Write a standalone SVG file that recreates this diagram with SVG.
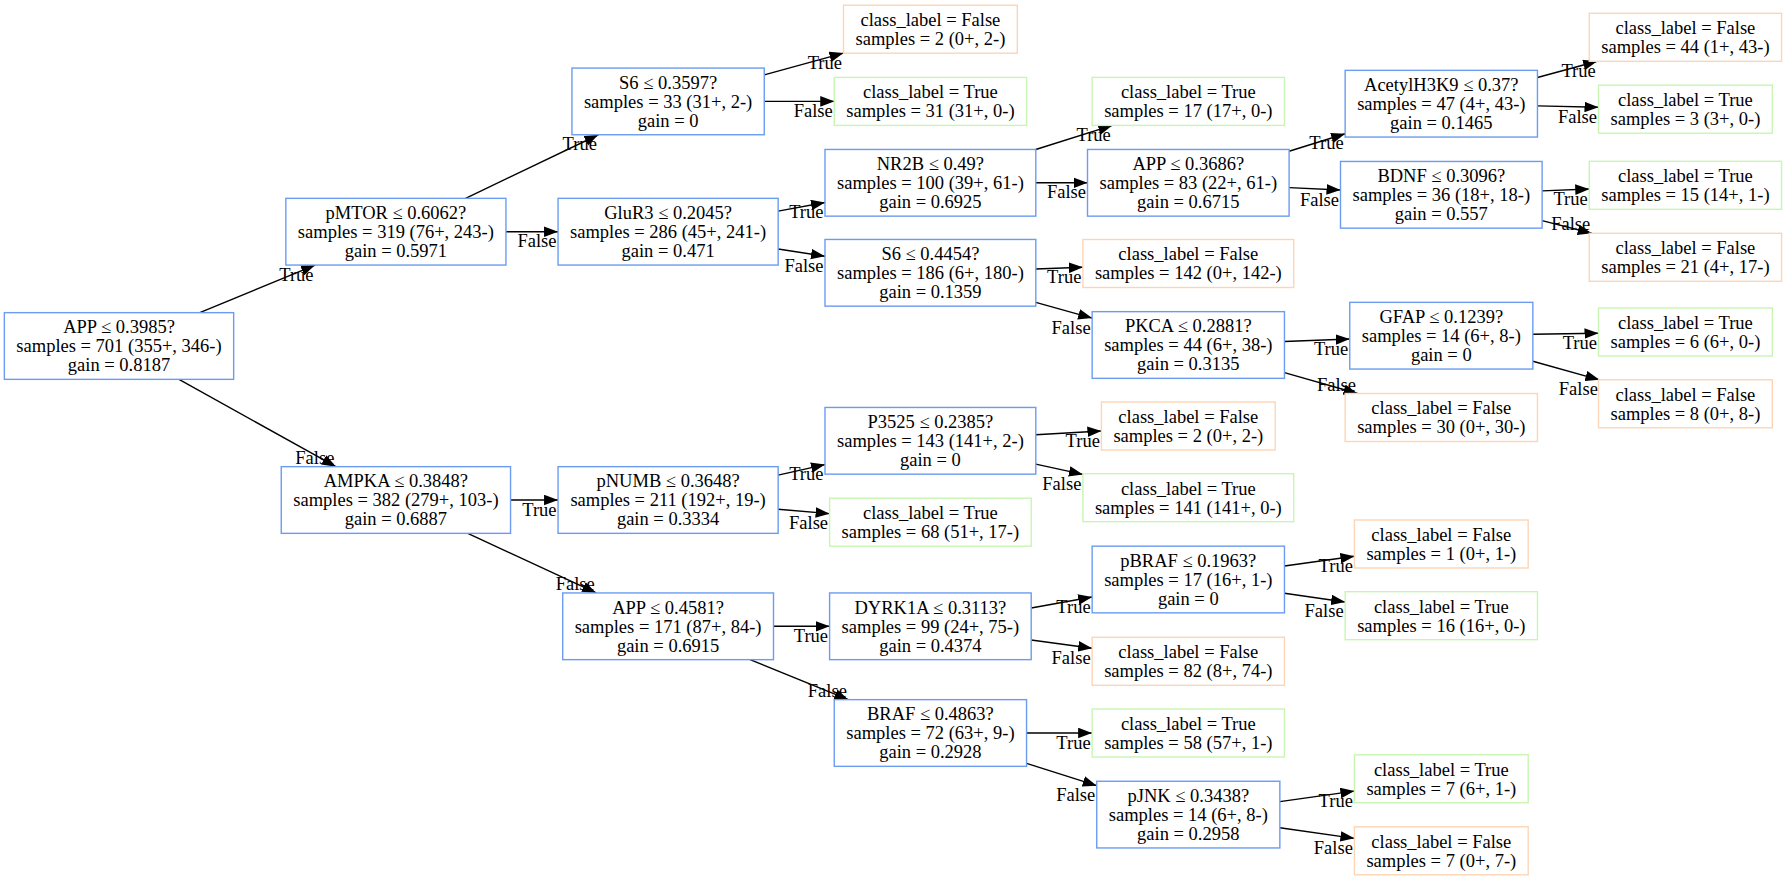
<svg xmlns="http://www.w3.org/2000/svg" width="1786" height="880" viewBox="0 0 1786 880">
<defs>
<style>
text{font-family:"Liberation Serif","Times New Roman",serif;font-size:18.5px;fill:#000}
.node text{text-anchor:middle}
.dec{fill:#fff;stroke:#6b9cf2;stroke-width:1.4}
.lt{fill:#fff;stroke:#c8f6b2;stroke-width:1.4}
.lf{fill:#fff;stroke:#fdd5b6;stroke-width:1.4}
.edges line{stroke:#000;stroke-width:1.4;marker-end:url(#ah)}
.edges text{text-anchor:end}
</style>
<marker id="ah" viewBox="0 0 14 11" refX="14" refY="5.5" markerWidth="14" markerHeight="11" markerUnits="userSpaceOnUse" orient="auto"><path d="M0,0.2 L14,5.5 L0,10.8 Z" fill="#000"/></marker>
</defs>
<rect width="1786" height="880" fill="#fff"/>
<g id="edges" class="edges">
<line x1="199.8" y1="312.65" x2="315.1" y2="265.05"/><text x="313.6" y="280.6">True</text>
<line x1="179.0" y1="379.35" x2="335.9" y2="466.65"/><text x="334.4" y="463.6">False</text>
<line x1="465.6" y1="198.35" x2="598.4" y2="134.75"/><text x="596.9" y="150.3">True</text>
<line x1="506.0" y1="231.7" x2="558.05" y2="231.7"/><text x="556.55" y="247.2">False</text>
<line x1="510.55" y1="500" x2="558.05" y2="500"/><text x="556.55" y="515.5">True</text>
<line x1="467.8" y1="533.35" x2="596.2" y2="592.95"/><text x="594.7" y="589.9">False</text>
<line x1="764.25" y1="74.93" x2="843.5" y2="53.12"/><text x="842" y="68.6">True</text>
<line x1="764.25" y1="101.4" x2="834.25" y2="101.4"/><text x="832.75" y="116.9">False</text>
<line x1="778.15" y1="211.18" x2="825.0" y2="202.45"/><text x="823.5" y="218">True</text>
<line x1="778.15" y1="248.95" x2="825.0" y2="256.29"/><text x="823.5" y="271.8">False</text>
<line x1="778.15" y1="475.16" x2="825.0" y2="464.59"/><text x="823.5" y="480.1">True</text>
<line x1="778.15" y1="509.32" x2="829.6" y2="513.67"/><text x="828.1" y="529.2">False</text>
<line x1="773.5" y1="626.3" x2="829.6" y2="626.3"/><text x="828.1" y="641.8">True</text>
<line x1="750.1" y1="659.65" x2="848.4" y2="699.65"/><text x="846.9" y="696.6">False</text>
<line x1="1035.8" y1="149.53" x2="1112.27" y2="125.4"/><text x="1110.8" y="140.9">True</text>
<line x1="1035.8" y1="182.8" x2="1087.5" y2="182.8"/><text x="1086" y="198.3">False</text>
<line x1="1035.8" y1="269.0" x2="1082.9" y2="267.3"/><text x="1081.4" y="282.8">True</text>
<line x1="1035.8" y1="302.31" x2="1092.15" y2="318.08"/><text x="1090.65" y="333.6">False</text>
<line x1="1035.8" y1="434.75" x2="1101.4" y2="430.99"/><text x="1099.9" y="446.5">True</text>
<line x1="1035.8" y1="464.06" x2="1082.9" y2="474.44"/><text x="1081.4" y="490">False</text>
<line x1="1031.2" y1="608.01" x2="1092.15" y2="596.95"/><text x="1090.65" y="612.5">True</text>
<line x1="1031.2" y1="639.98" x2="1092.15" y2="648.25"/><text x="1090.65" y="663.8">False</text>
<line x1="1026.55" y1="733" x2="1092.15" y2="733"/><text x="1090.65" y="748.5">True</text>
<line x1="1026.55" y1="763.42" x2="1096.75" y2="785.63"/><text x="1095.25" y="801.1">False</text>
<line x1="1289.1" y1="151.28" x2="1345.15" y2="133.76"/><text x="1343.65" y="149.3">True</text>
<line x1="1289.1" y1="187.58" x2="1340.5" y2="190.02"/><text x="1339" y="205.5">False</text>
<line x1="1284.45" y1="341.47" x2="1349.75" y2="339.07"/><text x="1348.25" y="354.6">True</text>
<line x1="1284.45" y1="372.55" x2="1357.55" y2="393.5"/><text x="1356" y="390.5">False</text>
<line x1="1284.45" y1="566.01" x2="1354.4" y2="556.19"/><text x="1352.9" y="571.7">True</text>
<line x1="1284.45" y1="593.26" x2="1345.15" y2="601.94"/><text x="1343.65" y="617.4">False</text>
<line x1="1279.85" y1="801.65" x2="1354.4" y2="791.1"/><text x="1352.9" y="806.6">True</text>
<line x1="1279.85" y1="827.7" x2="1354.4" y2="838.37"/><text x="1352.9" y="853.9">False</text>
<line x1="1537.45" y1="77.55" x2="1597.18" y2="61.3"/><text x="1595.7" y="76.8">True</text>
<line x1="1537.45" y1="105.87" x2="1598.5" y2="107.24"/><text x="1597" y="122.7">False</text>
<line x1="1542.1" y1="190.88" x2="1589.25" y2="189.04"/><text x="1587.75" y="204.5">True</text>
<line x1="1542.1" y1="220.61" x2="1591.67" y2="233.3"/><text x="1590.2" y="230.3">False</text>
<line x1="1532.85" y1="334.31" x2="1598.5" y2="333.32"/><text x="1597" y="348.8">True</text>
<line x1="1532.85" y1="361.24" x2="1599.38" y2="379.8"/><text x="1597.9" y="395">False</text>
</g>
<g id="n0" class="node"><rect class="dec" x="4.35" y="312.65" width="229.3" height="66.7"/><text x="119" y="333.3">APP ≤ 0.3985?</text><text x="119" y="352.3">samples = 701 (355+, 346-)</text><text x="119" y="371.3">gain = 0.8187</text></g>
<g id="n1" class="node"><rect class="dec" x="285.85" y="198.35" width="220.1" height="66.7"/><text x="395.9" y="219">pMTOR ≤ 0.6062?</text><text x="395.9" y="238">samples = 319 (76+, 243-)</text><text x="395.9" y="257">gain = 0.5971</text></g>
<g id="n2" class="node"><rect class="dec" x="281.25" y="466.65" width="229.3" height="66.7"/><text x="395.9" y="487.3">AMPKA ≤ 0.3848?</text><text x="395.9" y="506.3">samples = 382 (279+, 103-)</text><text x="395.9" y="525.3">gain = 0.6887</text></g>
<g id="n3" class="node"><rect class="dec" x="571.95" y="68.05" width="192.3" height="66.7"/><text x="668.1" y="88.7">S6 ≤ 0.3597?</text><text x="668.1" y="107.7">samples = 33 (31+, 2-)</text><text x="668.1" y="126.7">gain = 0</text></g>
<g id="n4" class="node"><rect class="dec" x="558.05" y="198.35" width="220.1" height="66.7"/><text x="668.1" y="219">GluR3 ≤ 0.2045?</text><text x="668.1" y="238">samples = 286 (45+, 241-)</text><text x="668.1" y="257">gain = 0.471</text></g>
<g id="n5" class="node"><rect class="dec" x="558.05" y="466.65" width="220.1" height="66.7"/><text x="668.1" y="487.3">pNUMB ≤ 0.3648?</text><text x="668.1" y="506.3">samples = 211 (192+, 19-)</text><text x="668.1" y="525.3">gain = 0.3334</text></g>
<g id="n6" class="node"><rect class="dec" x="562.7" y="592.95" width="210.8" height="66.7"/><text x="668.1" y="613.6">APP ≤ 0.4581?</text><text x="668.1" y="632.6">samples = 171 (87+, 84-)</text><text x="668.1" y="651.6">gain = 0.6915</text></g>
<g id="n7" class="node"><rect class="lf" x="843.5" y="5.2" width="173.8" height="48"/><text x="930.4" y="26">class_label = False</text><text x="930.4" y="45">samples = 2 (0+, 2-)</text></g>
<g id="n8" class="node"><rect class="lt" x="834.25" y="77.4" width="192.3" height="48"/><text x="930.4" y="98.2">class_label = True</text><text x="930.4" y="117.2">samples = 31 (31+, 0-)</text></g>
<g id="n9" class="node"><rect class="dec" x="825" y="149.45" width="210.8" height="66.7"/><text x="930.4" y="170.1">NR2B ≤ 0.49?</text><text x="930.4" y="189.1">samples = 100 (39+, 61-)</text><text x="930.4" y="208.1">gain = 0.6925</text></g>
<g id="n10" class="node"><rect class="dec" x="825" y="239.45" width="210.8" height="66.7"/><text x="930.4" y="260.1">S6 ≤ 0.4454?</text><text x="930.4" y="279.1">samples = 186 (6+, 180-)</text><text x="930.4" y="298.1">gain = 0.1359</text></g>
<g id="n11" class="node"><rect class="dec" x="825" y="407.45" width="210.8" height="66.7"/><text x="930.4" y="428.1">P3525 ≤ 0.2385?</text><text x="930.4" y="447.1">samples = 143 (141+, 2-)</text><text x="930.4" y="466.1">gain = 0</text></g>
<g id="n12" class="node"><rect class="lt" x="829.6" y="498.2" width="201.6" height="48"/><text x="930.4" y="519">class_label = True</text><text x="930.4" y="538">samples = 68 (51+, 17-)</text></g>
<g id="n13" class="node"><rect class="dec" x="829.6" y="592.95" width="201.6" height="66.7"/><text x="930.4" y="613.6">DYRK1A ≤ 0.3113?</text><text x="930.4" y="632.6">samples = 99 (24+, 75-)</text><text x="930.4" y="651.6">gain = 0.4374</text></g>
<g id="n14" class="node"><rect class="dec" x="834.25" y="699.65" width="192.3" height="66.7"/><text x="930.4" y="720.3">BRAF ≤ 0.4863?</text><text x="930.4" y="739.3">samples = 72 (63+, 9-)</text><text x="930.4" y="758.3">gain = 0.2928</text></g>
<g id="n15" class="node"><rect class="lt" x="1092.15" y="77.4" width="192.3" height="48"/><text x="1188.3" y="98.2">class_label = True</text><text x="1188.3" y="117.2">samples = 17 (17+, 0-)</text></g>
<g id="n16" class="node"><rect class="dec" x="1087.5" y="149.45" width="201.6" height="66.7"/><text x="1188.3" y="170.1">APP ≤ 0.3686?</text><text x="1188.3" y="189.1">samples = 83 (22+, 61-)</text><text x="1188.3" y="208.1">gain = 0.6715</text></g>
<g id="n17" class="node"><rect class="lf" x="1082.9" y="239.5" width="210.8" height="48"/><text x="1188.3" y="260.3">class_label = False</text><text x="1188.3" y="279.3">samples = 142 (0+, 142-)</text></g>
<g id="n18" class="node"><rect class="dec" x="1092.15" y="311.65" width="192.3" height="66.7"/><text x="1188.3" y="332.3">PKCA ≤ 0.2881?</text><text x="1188.3" y="351.3">samples = 44 (6+, 38-)</text><text x="1188.3" y="370.3">gain = 0.3135</text></g>
<g id="n19" class="node"><rect class="lf" x="1101.4" y="402" width="173.8" height="48"/><text x="1188.3" y="422.8">class_label = False</text><text x="1188.3" y="441.8">samples = 2 (0+, 2-)</text></g>
<g id="n20" class="node"><rect class="lt" x="1082.9" y="473.7" width="210.8" height="48"/><text x="1188.3" y="494.5">class_label = True</text><text x="1188.3" y="513.5">samples = 141 (141+, 0-)</text></g>
<g id="n21" class="node"><rect class="dec" x="1092.15" y="546.15" width="192.3" height="66.7"/><text x="1188.3" y="566.8">pBRAF ≤ 0.1963?</text><text x="1188.3" y="585.8">samples = 17 (16+, 1-)</text><text x="1188.3" y="604.8">gain = 0</text></g>
<g id="n22" class="node"><rect class="lf" x="1092.15" y="637.3" width="192.3" height="48"/><text x="1188.3" y="658.1">class_label = False</text><text x="1188.3" y="677.1">samples = 82 (8+, 74-)</text></g>
<g id="n23" class="node"><rect class="lt" x="1092.15" y="709" width="192.3" height="48"/><text x="1188.3" y="729.8">class_label = True</text><text x="1188.3" y="748.8">samples = 58 (57+, 1-)</text></g>
<g id="n24" class="node"><rect class="dec" x="1096.75" y="781.25" width="183.1" height="66.7"/><text x="1188.3" y="801.9">pJNK ≤ 0.3438?</text><text x="1188.3" y="820.9">samples = 14 (6+, 8-)</text><text x="1188.3" y="839.9">gain = 0.2958</text></g>
<g id="n25" class="node"><rect class="dec" x="1345.15" y="70.35" width="192.3" height="66.7"/><text x="1441.3" y="91">AcetylH3K9 ≤ 0.37?</text><text x="1441.3" y="110">samples = 47 (4+, 43-)</text><text x="1441.3" y="129">gain = 0.1465</text></g>
<g id="n26" class="node"><rect class="dec" x="1340.5" y="161.45" width="201.6" height="66.7"/><text x="1441.3" y="182.1">BDNF ≤ 0.3096?</text><text x="1441.3" y="201.1">samples = 36 (18+, 18-)</text><text x="1441.3" y="220.1">gain = 0.557</text></g>
<g id="n27" class="node"><rect class="dec" x="1349.75" y="302.35" width="183.1" height="66.7"/><text x="1441.3" y="323">GFAP ≤ 0.1239?</text><text x="1441.3" y="342">samples = 14 (6+, 8-)</text><text x="1441.3" y="361">gain = 0</text></g>
<g id="n28" class="node"><rect class="lf" x="1345.15" y="393.5" width="192.3" height="48"/><text x="1441.3" y="414.3">class_label = False</text><text x="1441.3" y="433.3">samples = 30 (0+, 30-)</text></g>
<g id="n29" class="node"><rect class="lf" x="1354.4" y="520" width="173.8" height="48"/><text x="1441.3" y="540.8">class_label = False</text><text x="1441.3" y="559.8">samples = 1 (0+, 1-)</text></g>
<g id="n30" class="node"><rect class="lt" x="1345.15" y="591.7" width="192.3" height="48"/><text x="1441.3" y="612.5">class_label = True</text><text x="1441.3" y="631.5">samples = 16 (16+, 0-)</text></g>
<g id="n31" class="node"><rect class="lt" x="1354.4" y="754.8" width="173.8" height="48"/><text x="1441.3" y="775.6">class_label = True</text><text x="1441.3" y="794.6">samples = 7 (6+, 1-)</text></g>
<g id="n32" class="node"><rect class="lf" x="1354.4" y="826.8" width="173.8" height="48"/><text x="1441.3" y="847.6">class_label = False</text><text x="1441.3" y="866.6">samples = 7 (0+, 7-)</text></g>
<g id="n33" class="node"><rect class="lf" x="1589.25" y="13.3" width="192.3" height="48"/><text x="1685.4" y="34.1">class_label = False</text><text x="1685.4" y="53.1">samples = 44 (1+, 43-)</text></g>
<g id="n34" class="node"><rect class="lt" x="1598.5" y="85.2" width="173.8" height="48"/><text x="1685.4" y="106">class_label = True</text><text x="1685.4" y="125">samples = 3 (3+, 0-)</text></g>
<g id="n35" class="node"><rect class="lt" x="1589.25" y="161.3" width="192.3" height="48"/><text x="1685.4" y="182.1">class_label = True</text><text x="1685.4" y="201.1">samples = 15 (14+, 1-)</text></g>
<g id="n36" class="node"><rect class="lf" x="1589.25" y="233.3" width="192.3" height="48"/><text x="1685.4" y="254.1">class_label = False</text><text x="1685.4" y="273.1">samples = 21 (4+, 17-)</text></g>
<g id="n37" class="node"><rect class="lt" x="1598.5" y="308" width="173.8" height="48"/><text x="1685.4" y="328.8">class_label = True</text><text x="1685.4" y="347.8">samples = 6 (6+, 0-)</text></g>
<g id="n38" class="node"><rect class="lf" x="1598.5" y="379.8" width="173.8" height="48"/><text x="1685.4" y="400.6">class_label = False</text><text x="1685.4" y="419.6">samples = 8 (0+, 8-)</text></g>
</svg>
